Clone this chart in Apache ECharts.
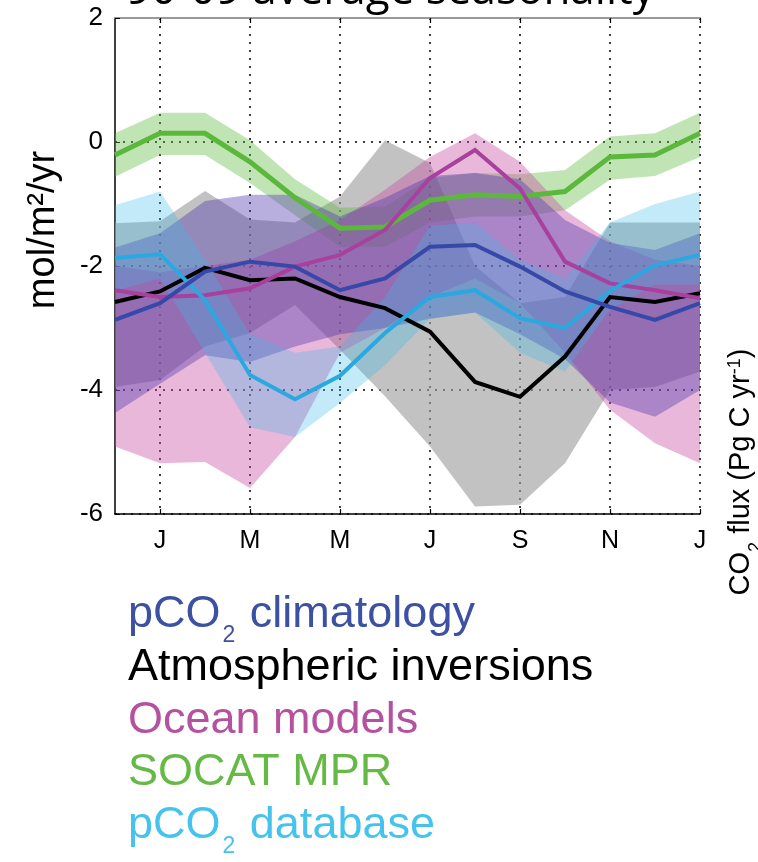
<!DOCTYPE html>
<html>
<head>
<meta charset="utf-8">
<script src="https://cdn.jsdelivr.net/npm/echarts@6/dist/echarts.min.js"></script>
<style>
html,body{margin:0;padding:0;background:#fff;}
#c{width:758px;height:862px;}
</style>
</head>
<body>
<div id="c"></div>
<script>
// Months from December to the following January (14 monthly points)
const months = ['D','J','F','M','A','M','J','J','A','S','O','N','D','J'];
const yTickMin = -6, yTickMax = 2, yTickStep = 2;

// pCO2 climatology
const climLine  = [-2.87, -2.60, -2.09, -1.93, -2.01, -2.39, -2.20, -1.69, -1.66, -2.01, -2.41, -2.66, -2.87, -2.60];
const climUpper = [-1.70, -1.47, -0.95, -0.85, -0.85, -1.20, -0.90, -0.55, -0.50, -0.60, -1.26, -1.63, -1.74, -1.47];
const climLower = [-4.37, -3.90, -3.44, -3.55, -3.30, -3.10, -3.00, -2.85, -2.75, -3.10, -3.50, -4.20, -4.43, -4.00];

// Atmospheric inversions
const invLine  = [-2.58, -2.41, -2.03, -2.23, -2.20, -2.50, -2.68, -3.06, -3.87, -4.11, -3.46, -2.50, -2.58, -2.44];
const invUpper = [-1.31, -1.28, -0.79, -1.25, -1.30, -0.88,  0.03, -0.34, -2.00, -2.60, -2.50, -1.30, -1.30, -1.30];
const invLower = [-3.95, -3.84, -3.30, -3.08, -2.63, -3.35, -4.10, -4.91, -5.88, -5.85, -5.18, -4.00, -3.95, -3.70];

// Ocean models
const oceanLine  = [-2.39, -2.50, -2.47, -2.36, -2.01, -1.82, -1.42, -0.58, -0.13, -0.75, -1.93, -2.28, -2.39, -2.52];
const oceanUpper = [-2.00, -2.10, -2.00, -1.90, -1.60, -1.26, -0.77, -0.24,  0.14, -0.32, -1.10, -1.60, -1.90, -2.00];
const oceanLower = [-4.91, -5.18, -5.16, -5.58, -4.76, -3.40, -3.00, -2.50, -2.20, -2.60, -3.40, -4.32, -4.86, -5.18];

// SOCAT MPR
const socatLine  = [-0.21,  0.14,  0.14, -0.32, -0.90, -1.39, -1.37, -0.94, -0.85, -0.88, -0.80, -0.24, -0.21,  0.14];
const socatUpper = [ 0.14,  0.47,  0.47,  0.03, -0.60, -1.06, -1.04, -0.58, -0.50, -0.52, -0.45,  0.09,  0.14,  0.47];
const socatLower = [-0.56, -0.21, -0.21, -0.66, -1.18, -1.69, -1.69, -1.30, -1.20, -1.20, -1.10, -0.61, -0.55, -0.24];

// pCO2 database
const dbLine  = [-1.87, -1.81, -2.55, -3.76, -4.15, -3.77, -3.08, -2.50, -2.39, -2.84, -3.00, -2.40, -1.99, -1.82];
const dbUpper = [-1.02, -0.80, -1.90, -3.10, -3.40, -3.30, -2.50, -1.35, -1.30, -1.90, -2.20, -1.30, -1.00, -0.80];
const dbLower = [-2.40, -2.20, -3.40, -4.60, -4.76, -4.21, -3.60, -2.85, -2.75, -3.40, -3.70, -2.70, -2.30, -2.30];

const legendItems = [
  {text: ['pCO', '2', ' climatology'], color: '#3d51a3'},
  {text: ['Atmospheric inversions'], color: '#000000'},
  {text: ['Ocean models'], color: '#b5519f'},
  {text: ['SOCAT MPR'], color: '#66b947'},
  {text: ['pCO', '2', ' database'], color: '#45c3ec'}
];

function band(name, lower, upper, color, opacity) {
  return [
    {type: 'line', name: name + '_lo', data: lower, stack: name, stackStrategy: 'all',
     symbol: 'none', lineStyle: {opacity: 0}, silent: true},
    {type: 'line', name: name + '_hi', data: upper.map((u, i) => +(u - lower[i]).toFixed(3)),
     stack: name, stackStrategy: 'all', symbol: 'none', lineStyle: {opacity: 0},
     areaStyle: {color: color, opacity: opacity}, silent: true}
  ];
}
function line(name, data, color, width) {
  return {type: 'line', name: name, data: data, symbol: 'none', silent: true,
          lineStyle: {color: color, width: width, join: 'miter'}};
}

const oddOnly = (idx) => idx % 2 === 1;
const font = 'Liberation Sans, Arial, sans-serif';

const chart = echarts.init(document.getElementById('c'), null, {renderer: 'canvas'});

const legendGraphics = legendItems.map((it, k) => {
  let s = '';
  if (it.text.length === 3) s = '{n|' + it.text[0] + '}{s|' + it.text[1] + '}{n|' + it.text[2] + '}';
  else s = '{n|' + it.text[0] + '}';
  return {
    type: 'text', left: 128, top: 592 + k * 52.8,
    style: {
      text: s,
      rich: {
        n: {fontSize: 45, lineHeight: 50, fontFamily: font, fill: it.color, verticalAlign: 'top'},
        s: {fontSize: 23, lineHeight: 23, fontFamily: font, fill: it.color, verticalAlign: 'top', padding: [32, 2, 0, 2]}
      }
    }
  };
});

chart.setOption({
  animation: false,
  backgroundColor: '#fff',
  grid: {left: 115, right: 58, top: 18, bottom: 348, containLabel: false},
  xAxis: [{
    type: 'category', data: months, boundaryGap: false,
    axisLine: {show: true, onZero: false, lineStyle: {color: '#000', width: 1.5}},
    axisTick: {show: true, inside: true, length: 5, interval: oddOnly, lineStyle: {color: '#000', width: 1.2}},
    axisLabel: {interval: oddOnly, fontSize: 25, color: '#000', margin: 15, fontFamily: font},
    splitLine: {show: true, interval: oddOnly, lineStyle: {color: '#000', type: [2, 6], width: 1.5}}
  }, {
    type: 'category', data: months, boundaryGap: false, position: 'top',
    axisLine: {show: true, onZero: false, lineStyle: {color: '#9a9a9a', width: 2}},
    axisTick: {show: true, inside: true, length: 5, interval: oddOnly, lineStyle: {color: '#000', width: 1.2}},
    axisLabel: {show: false}, splitLine: {show: false}
  }],
  yAxis: [{
    type: 'value', min: yTickMin, max: yTickMax, interval: yTickStep,
    axisLine: {show: true, lineStyle: {color: '#000', width: 1.5}},
    axisTick: {show: true, inside: true, length: 5, lineStyle: {color: '#000'}},
    axisLabel: {fontSize: 26, color: '#000', margin: 12, fontFamily: font},
    splitLine: {show: true, lineStyle: {color: '#000', type: [2, 6], width: 1.5}}
  }],
  series: [
    ...band('inv', invLower, invUpper, '#9c9c9c', 0.62),
    line('Atmospheric inversions', invLine, '#000000', 4),
    ...band('socat', socatLower, socatUpper, '#5cb83c', 0.38),
    line('SOCAT MPR', socatLine, '#5cb83c', 5),
    ...band('ocean', oceanLower, oceanUpper, '#c84aa0', 0.4),
    line('Ocean models', oceanLine, '#a8409e', 4),
    ...band('clim', climLower, climUpper, '#5038b0', 0.4),
    ...band('db', dbLower, dbUpper, '#38b8e8', 0.3),
    line('pCO2 database', dbLine, '#2aa8e0', 4),
    line('pCO2 climatology', climLine, '#3648a8', 4)
  ],
  graphic: [
    {type: 'text', left: 126, top: -31,
     style: {text: '90-09 average seasonality', fontSize: 44, fontFamily: 'Open Sans, sans-serif', fill: '#000'}},
    {type: 'text', x: 44, y: 230, rotation: Math.PI / 2,
     style: {text: 'mol/m²/yr', fontSize: 38, fontFamily: font, fill: '#000', align: 'center', verticalAlign: 'middle'}},
    {type: 'text', x: 742, y: 472, rotation: Math.PI / 2,
     style: {
       text: '{n|CO}{s|2}{n| flux (Pg C yr}{p|-1}{n|)}', align: 'center', verticalAlign: 'middle',
       rich: {
         n: {fontSize: 29, lineHeight: 32, fontFamily: font, fill: '#000', verticalAlign: 'top'},
         s: {fontSize: 18, lineHeight: 18, fontFamily: font, fill: '#000', verticalAlign: 'top', padding: [21, 0, 0, 0]},
         p: {fontSize: 18, lineHeight: 18, fontFamily: font, fill: '#000', verticalAlign: 'top', padding: [0, 0, 0, 0]}
       }
     }},
    ...legendGraphics
  ]
});
</script>
</body>
</html>
